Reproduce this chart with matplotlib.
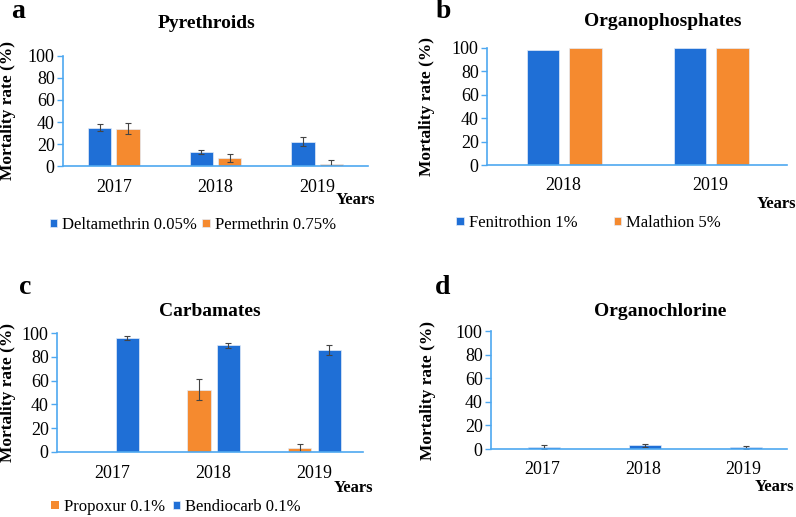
import matplotlib.pyplot as plt
import numpy as np

# data
years_a = ['2017', '2018', '2019']
deltamethrin = [35, 12.5, 22]
deltamethrin_err = [3, 2, 4]
permethrin = [34, 7.5, 2]
permethrin_err = [5, 3.5, 3.5]

years_b = ['2018', '2019']
fenitrothion = [98.5, 100]
malathion = [100, 100]

years_c = ['2017', '2018', '2019']
propoxur = [0, 52.5, 3]
propoxur_err = [0, 8.5, 3.5]
bendiocarb = [96, 89.5, 85.5]
bendiocarb_err = [1.5, 2, 4]

years_d = ['2017', '2018', '2019']
organochlorine = [1.5, 3, 1.5]
organochlorine_err = [1.8, 1.2, 1.3]

BLUE = '#1f6fd6'
ORANGE = '#f58a2f'
SPINE = '#4ea8f0'
W, H = 796, 517

plt.rcParams['font.family'] = ['Liberation Serif', 'DejaVu Serif']

fig = plt.figure(figsize=(W / 100, H / 100), dpi=100)


def px(x, y):
    return x / W, 1 - y / H


def make_axes(left, top, right, bottom):
    x0, y1 = px(left, top)
    x1, y0 = px(right, bottom)
    ax = fig.add_axes([x0, y0, x1 - x0, y1 - y0])
    ax.set_ylim(0, 100)
    ax.set_yticks(range(0, 101, 20))
    for s in ['top', 'right']:
        ax.spines[s].set_visible(False)
    for s in ['left', 'bottom']:
        ax.spines[s].set_color(SPINE)
        ax.spines[s].set_linewidth(1.2)
    ax.tick_params(axis='y', length=4, width=1, color=SPINE, labelsize=13, pad=2)
    ax.tick_params(axis='x', length=0, labelsize=13, pad=9)
    return ax


def bars(ax, x, vals, errs, color, width):
    err_kw = dict(ecolor='#444444', elinewidth=0.8, capsize=2, capthick=0.8)
    heights = np.array(vals, dtype=float)
    b = ax.bar(x, heights, width, color=color, edgecolor='#e3ecf8', linewidth=0.5,
               yerr=errs, error_kw=err_kw)
    return b


def decorate(ax, letter, lx, ly, title, tx, ty, ylx, yx, yy):
    fig.text(*px(lx, ly), letter, fontsize=20, fontweight='bold', ha='center', va='center')
    fig.text(*px(tx, ty), title, fontsize=14, fontweight='bold', ha='center', va='center')
    box = ax.get_position()
    fig.text(ylx / W, (box.y0 + box.y1) / 2, 'Mortality rate (%)', fontsize=12.5,
             fontweight='bold', rotation=90, ha='center', va='center')
    fig.text(*px(yx, yy), 'Years', fontsize=12, fontweight='bold', ha='right', va='center')


def add_legend(ax, handles, labels, x, y, colsp):
    ax.legend(handles, labels, ncol=2, frameon=False,
              fontsize=12, handlelength=0.45, handleheight=0.4, handletextpad=0.3,
              columnspacing=colsp, loc='center left', borderaxespad=0, borderpad=0,
              bbox_to_anchor=px(x, y), bbox_transform=fig.transFigure)


# a: Pyrethroids
ax = make_axes(63, 56, 368, 166)
x = np.arange(len(years_a))
b1 = bars(ax, x - 0.14, deltamethrin, deltamethrin_err, BLUE, 0.23)
b2 = bars(ax, x + 0.14, permethrin, permethrin_err, ORANGE, 0.23)
ax.set_xticks(x)
ax.set_xticklabels(years_a)
ax.set_xlim(-0.5, 2.5)
decorate(ax, 'a', 18, 12, 'Pyrethroids', 207, 23, 8, 375, 200)
add_legend(ax, [b1, b2], ['Deltamethrin 0.05%', 'Permethrin 0.75%'], 50, 225, 0.3)

# b: Organophosphates
ax = make_axes(487, 48, 787, 165)
x = np.arange(len(years_b))
b1 = bars(ax, x - 0.14, fenitrothion, None, BLUE, 0.22)
b2 = bars(ax, x + 0.15, malathion, None, ORANGE, 0.22)
ax.set_xticks(x)
ax.set_xticklabels(years_b)
ax.set_xlim(-0.52, 1.52)
decorate(ax, 'b', 443, 12, 'Organophosphates', 663, 21, 427, 796, 204)
add_legend(ax, [b1, b2], ['Fenitrothion 1%', 'Malathion 5%'], 456, 223, 2.2)

# c: Carbamates
ax = make_axes(57, 333, 363, 452)
x = np.arange(len(years_c))
b1 = bars(ax, x - 0.14, propoxur, [e if e else np.nan for e in propoxur_err], ORANGE, 0.23)
b2 = bars(ax, x + 0.15, bendiocarb, bendiocarb_err, BLUE, 0.23)
b1[0].set_linewidth(0)
ax.set_xticks(x)
ax.set_xticklabels(years_c)
ax.set_xlim(-0.545, 2.485)
decorate(ax, 'c', 25, 287, 'Carbamates', 210, 312, 8, 373, 488)
add_legend(ax, [b1, b2], ['Propoxur 0.1%', 'Bendiocarb 0.1%'], 51, 507, 0.5)

# d: Organochlorine
ax = make_axes(491, 331, 787, 449)
x = np.arange(len(years_d))
bars(ax, x + 0.02, organochlorine, organochlorine_err, BLUE, 0.32)
ax.set_xticks(x)
ax.set_xticklabels(years_d)
ax.set_xlim(-0.51, 2.43)
decorate(ax, 'd', 443, 287, 'Organochlorine', 660, 312, 428, 794, 487)

fig.savefig('out.png', dpi=100, facecolor='white')
